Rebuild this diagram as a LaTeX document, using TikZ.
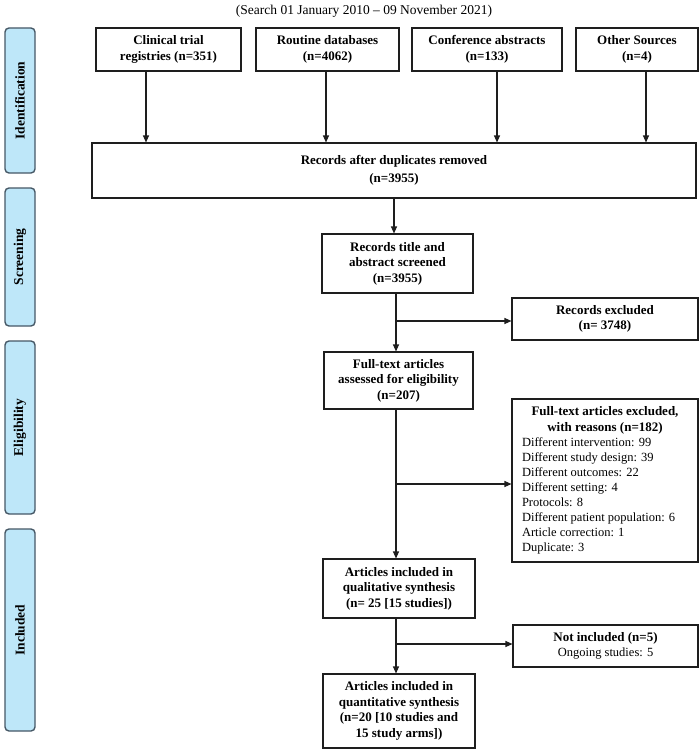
\documentclass[tikz,border=0pt]{standalone}
\usepackage{fontspec}
\setmainfont{Liberation Serif}
\usetikzlibrary{arrows.meta,calc}
\definecolor{sidefill}{HTML}{BEE7F9}
\definecolor{sideline}{HTML}{465866}
\definecolor{lineclr}{HTML}{1E1E1E}
\tikzset{
  box/.style={draw=lineclr, line width=1.1pt, fill=white, align=center, inner sep=2pt,
    font=\fontsize{13}{15.5}\selectfont\bfseries},
  side/.style={draw=sideline, fill=sidefill, line width=1.4pt, rounded corners=4pt,
    minimum width=30pt, inner sep=0pt},
  sidetext/.style={rotate=90, font=\fontsize{13.5}{15}\selectfont\bfseries},
  arr/.style={draw=lineclr, line width=1.1pt, -{Triangle[length=7pt,width=6pt]}},
  ln/.style={draw=lineclr, line width=1.1pt},
  plain/.style={font=\fontsize{12.5}{15}\selectfont\mdseries}
}
\begin{document}
\begin{tikzpicture}[x=1pt,y=-1pt]
\useasboundingbox[fill=white] (0,0) rectangle (700,752);

% title
\node[font=\fontsize{13.5}{16}\selectfont] (title) at (364,11) {(Search 01 January 2010 -- 09 November 2021)};

% side labels
\node[side, minimum height=145pt] (sid) at (20,100.5) {};
\node[sidetext] (sidt) at (sid.center) {Identification};
\node[side, minimum height=138pt] (sscr) at (20,257) {};
\node[sidetext] (sscrt) at (sscr.center) {Screening};
\node[side, minimum height=173pt] (selig) at (20,427.5) {};
\node[sidetext] (seligt) at (selig.center) {Eligibility};
\node[side, minimum height=202pt] (sinc) at (20,630) {};
\node[sidetext] (sinct) at (sinc.center) {Included};

% source boxes
\node[box, minimum width=145pt, minimum height=43pt] (c1) at (168.5,49.5) {Clinical trial\\registries (n=351)};
\node[box, minimum width=143pt, minimum height=43pt] (c2) at (327.5,49.5) {Routine databases\\(n=4062)};
\node[box, minimum width=150pt, minimum height=43pt] (c3) at (487,49.5) {Conference abstracts\\(n=133)};
\node[box, minimum width=122pt, minimum height=43pt] (c4) at (637,49.5) {Other Sources\\(n=4)};

\node[box, minimum width=604pt, minimum height=55pt, font=\fontsize{13}{18}\selectfont\bfseries] (dup) at (394,170.5) {Records after duplicates removed\\(n=3955)};

\node[box, minimum width=151pt, minimum height=59pt] (scr) at (397.5,263.5) {Records title and\\abstract screened\\(n=3955)};
\node[box, minimum width=186pt, minimum height=42pt] (excl) at (605,319) {Records excluded\\(n= 3748)};

\node[box, minimum width=149pt, minimum height=57pt] (ft) at (398.5,380.5) {Full-text articles\\assessed for eligibility\\(n=207)};
\node[box, minimum width=186pt, minimum height=163pt] (ftex) at (605,480.5) {%
\begin{minipage}{166pt}\centering\bfseries
Full-text articles excluded,\\with reasons (n=182)\par
\raggedright\fontsize{12.5}{15}\selectfont\mdseries
Different intervention: 99\\
Different study design: 39\\
Different outcomes: 22\\
Different setting: 4\\
Protocols: 8\\
Different patient population: 6\\
Article correction: 1\\
Duplicate: 3
\end{minipage}};

\node[box, minimum width=152pt, minimum height=59pt] (qual) at (399,588.5) {Articles included in\\qualitative synthesis\\(n= 25 [15 studies])};
\node[box, minimum width=185pt, minimum height=42pt] (ninc) at (605.5,646) {Not included (n=5)\\{\fontsize{12.5}{15}\selectfont\mdseries Ongoing studies: 5}};
\node[box, minimum width=152pt, minimum height=74pt] (quant) at (399,711) {Articles included in\\quantitative synthesis\\(n=20 [10 studies and\\15 study arms])};

% arrow x-positions
\coordinate (a1) at (146,0);
\coordinate (a2) at (326,0);
\coordinate (a3) at (497,0);
\coordinate (a4) at (646,0);
\coordinate (mx) at (396,0);

\draw[arr] (c1.south -| a1) -- (dup.north -| a1);
\draw[arr] (c2.south -| a2) -- (dup.north -| a2);
\draw[arr] (c3.south -| a3) -- (dup.north -| a3);
\draw[arr] (c4.south -| a4) -- (dup.north -| a4);

\draw[arr] (dup.south) -- (dup.south |- scr.north);

\draw[arr] (scr.south -| mx) -- (ft.north -| mx);
\coordinate (b1) at (396,321);
\draw[arr] (b1) -- (b1 -| excl.west);

\draw[arr] (ft.south -| mx) -- (qual.north -| mx);
\coordinate (b2) at (396,484);
\draw[arr] (b2) -- (b2 -| ftex.west);

\draw[arr] (qual.south -| mx) -- (quant.north -| mx);
\coordinate (b3) at (396,644);
\draw[arr] (b3) -- (b3 -| ninc.west);
\end{tikzpicture}
\end{document}
